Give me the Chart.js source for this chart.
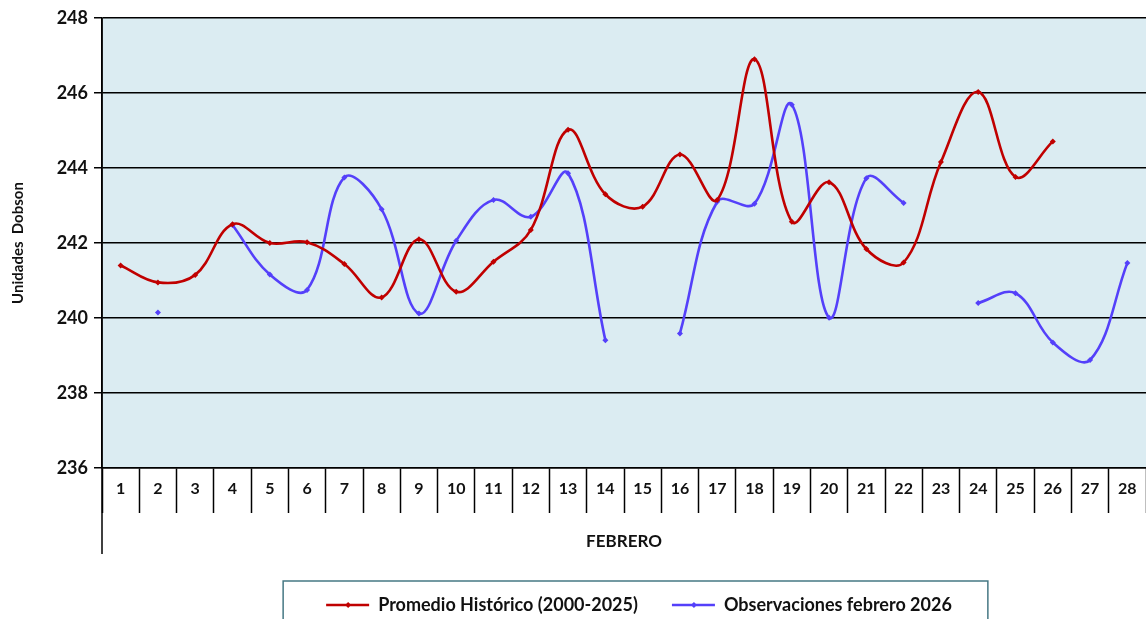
<!DOCTYPE html>
<html>
<head>
<meta charset="utf-8">
<script src="https://cdn.jsdelivr.net/npm/chart.js@4/dist/chart.umd.min.js"></script>
<style>
html,body{margin:0;padding:0;background:#fff;}
#wrap{width:1146px;height:619px;position:relative;}
</style>
</head>
<body>
<div id="wrap"><canvas id="c" width="1146" height="619"></canvas></div>
<script>
const days = ['1','2','3','4','5','6','7','8','9','10','11','12','13','14','15','16','17','18','19','20','21','22','23','24','25','26','27','28'];
const historico = [241.40,240.95,241.15,242.50,242.00,242.02,241.44,240.55,242.10,240.70,241.50,242.35,245.02,243.30,242.97,244.36,243.15,246.90,242.57,243.62,241.84,241.48,244.16,246.03,243.76,244.71,null,null];
const observ2026 = [null,240.15,null,242.48,241.16,240.75,243.75,242.90,240.12,242.06,243.15,242.70,243.86,239.41,null,239.59,243.10,243.05,245.69,240.01,243.73,243.07,null,240.40,240.66,239.35,238.88,241.47];
const yTicks = [236,238,240,242,244,246,248];
const seriesNames = ['Promedio Histórico (2000-2025)','Observaciones febrero 2026'];

const RED = 'rgb(192,0,0)';
const BLUE = 'rgb(84,64,250)';
const FONT = 'Lato, "DejaVu Sans", sans-serif';

const bgPlugin = {
  id: 'bg',
  afterLayout(chart) {
    const lg = chart.legend;
    if (lg) { lg.left += 15; lg.right += 15; }
  },
  beforeDraw(chart) {
    const {ctx, chartArea: a} = chart;
    ctx.save();
    ctx.fillStyle = 'rgb(219,236,242)';
    ctx.fillRect(a.left, a.top, a.right - a.left, a.bottom - a.top);
    ctx.restore();
  },
  afterDraw(chart) {
    const {ctx, chartArea: a} = chart;
    ctx.save();
    ctx.strokeStyle = '#000';
    ctx.lineWidth = 1.5;
    ctx.beginPath();
    ctx.moveTo(a.left, a.top);
    ctx.lineTo(a.left, a.bottom + 86);
    ctx.stroke();
    const lg = chart.legend;
    if (lg && lg.legendHitBoxes && lg.legendHitBoxes.length) {
      const hb = lg.legendHitBoxes;
      let l = Infinity, r = -Infinity, t = Infinity, b = -Infinity;
      hb.forEach(h => { l = Math.min(l, h.left); r = Math.max(r, h.left + h.width); t = Math.min(t, h.top); b = Math.max(b, h.top + h.height); });
      ctx.strokeStyle = 'rgb(70,120,132)';
      ctx.lineWidth = 1.5;
      const cy = (t + b) / 2;
      ctx.strokeRect(l - 43, cy - 24, (r - l) + 79, 60);
      const colors = [RED, BLUE];
      hb.forEach((h, i) => {
        const x = h.left + 22, y = h.top + h.height / 2;
        ctx.fillStyle = colors[i];
        ctx.beginPath();
        ctx.moveTo(x, y - 3); ctx.lineTo(x + 3, y); ctx.lineTo(x, y + 3); ctx.lineTo(x - 3, y);
        ctx.closePath(); ctx.fill();
      });
    }
    ctx.restore();
  }
};

new Chart(document.getElementById('c'), {
  type: 'line',
  data: {
    labels: days,
    datasets: [
      {
        label: seriesNames[0],
        data: historico,
        borderColor: RED,
        backgroundColor: RED,
        borderWidth: 2.6,
        tension: 0.38,
        pointStyle: 'rectRot',
        pointRadius: 3,
        pointBorderWidth: 0,
        spanGaps: false
      },
      {
        label: seriesNames[1],
        data: observ2026,
        borderColor: BLUE,
        backgroundColor: BLUE,
        borderWidth: 2.6,
        tension: 0.38,
        pointStyle: 'rectRot',
        pointRadius: 3,
        pointBorderWidth: 0,
        spanGaps: false
      }
    ]
  },
  options: {
    responsive: false,
    animation: false,
    devicePixelRatio: 1,
    layout: { autoPadding: false, padding: { top: 18, right: 0, bottom: -5, left: 0 } },
    plugins: {
      tooltip: { enabled: false },
      legend: {
        position: 'bottom',
        fullSize: false,
        labels: {
          usePointStyle: true,
          pointStyle: 'line',
          pointStyleWidth: 43,
          boxHeight: 18,
          padding: 34,
          color: '#111',
          font: { family: FONT, size: 18, weight: 'bold' },
          generateLabels(chart) {
            return chart.data.datasets.map((d, i) => ({
              text: d.label,
              datasetIndex: i,
              strokeStyle: d.borderColor,
              fillStyle: d.borderColor,
              lineWidth: 2.6,
              pointStyle: 'line',
              fontColor: '#111',
              hidden: false
            }));
          }
        }
      }
    },
    scales: {
      x: {
        offset: true,
        afterFit(scale) { scale.height = 94; scale.paddingLeft = 0; scale.paddingRight = 0; },
        grid: {
          display: true,
          offset: true,
          drawOnChartArea: false,
          drawTicks: true,
          tickLength: 45,
          tickWidth: 1.5,
          tickColor: '#000',
          color: '#000'
        },
        border: { display: true, color: '#000', width: 1.5 },
        ticks: {
          color: '#111',
          padding: -34,
          maxRotation: 0,
          autoSkip: false,
          font: { family: FONT, size: 16, weight: 'bold' }
        },
        title: {
          display: true,
          text: 'FEBRERO',
          color: '#111',
          padding: { top: 0, bottom: 10 },
          font: { family: FONT, size: 17, weight: 'bold' }
        }
      },
      y: {
        min: 236,
        max: 248,
        afterFit(scale) { scale.width = 102; },
        afterBuildTicks(scale) { scale.ticks = yTicks.map(v => ({ value: v })); },
        grid: {
          color: '#000',
          lineWidth: 1.5,
          drawTicks: true,
          tickLength: 8,
          tickColor: '#000'
        },
        border: { display: true, color: '#000', width: 1.5 },
        ticks: {
          color: '#111',
          padding: 6,
          font: { family: FONT, size: 18, weight: 'bold' }
        },
        title: {
          display: true,
          text: 'Unidades  Dobson',
          color: '#111',
          padding: { top: 9, bottom: 0 },
          font: { family: FONT, size: 15, weight: 'bold' }
        }
      }
    }
  },
  plugins: [bgPlugin]
});
</script>
</body>
</html>
